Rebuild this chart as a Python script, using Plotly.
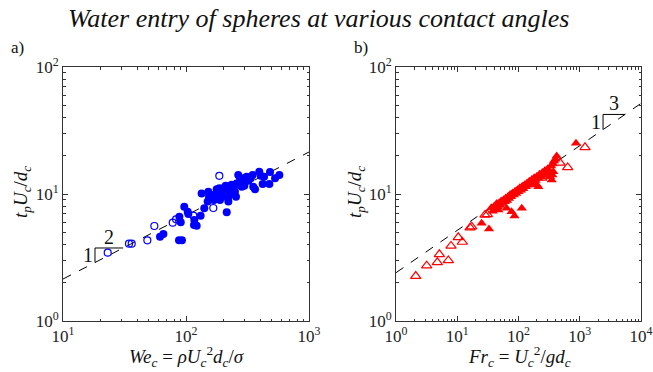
import numpy as np
import plotly.graph_objects as go

# ---------------- data: panel a ----------------
we_open = [23.1, 34.4, 36.2, 48.5, 55.3, 78.0, 83.0, 114.8, 166.7, 186.6]
tp_open_a = [3.45, 4.06, 4.06, 4.32, 5.60, 5.95, 6.32, 6.75, 7.76, 13.9]

we_fill = [61.5, 65.5, 87.7, 92.7, 90.6, 88.3, 96.8, 103.2, 104.5, 116.1,
           122.1, 116.9, 131.5, 134.0, 140.8, 151.9, 150.0, 153.8, 166.7, 168.9,
           177.6, 186.6, 188.8, 194.8, 201.2, 210.1, 214.3, 214.3, 221.0, 221.0,
           231.0, 235.0, 245.5, 250.0, 255.0, 258.0, 266.0, 275.0, 284.0, 292.5,
           298.0, 311.0, 321.0, 336.0, 348.0, 352.0, 364.0, 394.0, 405.0, 420.0,
           431.0, 482.0, 476.0, 530.0, 574.0, 239.0, 201.0, 177.6, 162.0, 275.0]
tp_fill_a = [4.61, 4.84, 4.32, 4.32, 5.98, 6.63, 7.95, 7.26, 6.96, 5.70,
             5.63, 6.24, 6.75, 10.1, 7.71, 10.4, 8.71, 9.53, 9.82, 8.97,
             10.1, 11.1, 8.97, 10.4, 11.1, 11.6, 10.8, 7.17, 8.71, 9.53,
             10.1, 11.8, 11.4, 10.4, 9.53, 12.1, 14.1, 13.3, 11.4, 13.3,
             11.6, 13.7, 12.7, 13.3, 14.1, 11.4, 10.9, 15.0, 13.9, 12.0,
             13.7, 14.9, 12.0, 13.3, 14.1, 10.6, 9.53, 10.9, 9.08, 12.1]

# ---------------- data: panel b ----------------
fr_open = [2.10, 3.17, 4.73, 5.10, 7.15, 7.91, 10.4, 12.1, 16.2, 17.2,
           28.4, 31.0, 239.0, 476.0, 635.0, 1218.0]
tp_open_b = [2.26, 2.73, 2.90, 3.35, 3.00, 3.90, 4.56, 4.19, 5.43, 5.53,
             6.84, 6.90, 13.4, 17.6, 16.2, 23.3]

fr_fill = [25.0, 33.0, 36.0, 38.0, 40.0, 42.0, 44.0, 46.0, 47.0, 48.0,
           50.0, 52.0, 55.0, 57.0, 60.0, 62.0, 64.0, 65.0, 68.0, 70.0,
           73.0, 76.0, 77.0, 80.0, 84.0, 86.0, 88.0, 92.0, 96.0, 100.0,
           105.0, 110.0, 113.0, 115.0, 120.0, 126.0, 132.0, 138.0, 145.0, 150.0,
           158.0, 165.0, 172.0, 180.0, 190.0, 198.0, 200.0, 210.0, 211.0, 220.0,
           232.0, 245.0, 258.0, 270.0, 285.0, 300.0, 320.0, 327.0, 340.0, 348.0,
           357.0, 360.0, 370.0, 380.0, 400.0, 420.0, 869.0]
tp_fill_b = [5.88, 5.30, 7.8, 7.3, 8.0, 7.6, 8.4, 7.9, 7.48, 8.5,
             8.1, 8.8, 8.4, 9.0, 8.7, 9.3, 7.71, 8.9, 9.6, 9.2,
             9.9, 9.5, 7.26, 10.2, 9.8, 6.71, 10.5, 10.1, 10.8, 10.4,
             11.2, 10.7, 7.71, 11.5, 11.0, 11.8, 11.4, 12.2, 11.7, 12.6,
             12.1, 13.0, 12.4, 13.4, 12.8, 11.8, 13.8, 13.3, 11.4, 14.3,
             13.7, 14.8, 14.2, 15.3, 14.6, 15.8, 15.2, 13.7, 16.6, 12.9,
             14.1, 17.2, 15.0, 18.2, 18.8, 19.9, 25.1]

# power-law guide lines  y = C * x^n
fit_a = (0.677, 1 / 2)
fit_b = (2.4, 1 / 3)
range_a = [10, 1000]
range_b = [1, 10000]
tri_a = [18.2, 30.8]
tri_b = [2400, 5480]

# tick labels (decades)
dec_a_x = [1, 2, 3]
dec_b_x = [0, 1, 2, 3, 4]
dec_y = [0, 1, 2]

BLUE = "rgb(0,0,255)"
RED = "rgb(255,0,0)"
SERIF = "Liberation Serif"


def powline(fit, xs):
    return [fit[0] * x ** fit[1] for x in xs]


def minor_vals(decs):
    return [m * 10 ** d for d in decs[:-1] for m in range(2, 10)]


fig = go.Figure()

# panel a
fig.add_trace(go.Scatter(x=range_a, y=powline(fit_a, range_a), mode="lines",
                         line=dict(color="black", width=1, dash="dash"),
                         xaxis="x", yaxis="y", hoverinfo="skip"))
fig.add_trace(go.Scatter(x=we_open, y=tp_open_a, mode="markers",
                         marker=dict(symbol="circle-open", size=7, color=BLUE,
                                     line=dict(width=1.2, color=BLUE)),
                         xaxis="x", yaxis="y"))
fig.add_trace(go.Scatter(x=we_fill, y=tp_fill_a, mode="markers",
                         marker=dict(symbol="circle", size=8, color=BLUE),
                         xaxis="x", yaxis="y"))
ya1, ya2 = powline(fit_a, tri_a)
fig.add_trace(go.Scatter(x=[tri_a[0], tri_a[0], tri_a[1]], y=[ya1, ya2, ya2],
                         mode="lines", line=dict(color="black", width=1),
                         xaxis="x", yaxis="y", hoverinfo="skip"))

# panel b
fig.add_trace(go.Scatter(x=range_b, y=powline(fit_b, range_b), mode="lines",
                         line=dict(color="black", width=1, dash="dash"),
                         xaxis="x2", yaxis="y2", hoverinfo="skip"))
fig.add_trace(go.Scatter(x=fr_open, y=tp_open_b, mode="markers",
                         marker=dict(symbol="triangle-up-open", size=9, color=RED,
                                     line=dict(width=1.2, color=RED)),
                         xaxis="x2", yaxis="y2"))
fig.add_trace(go.Scatter(x=fr_fill, y=tp_fill_b, mode="markers",
                         marker=dict(symbol="triangle-up", size=9, color=RED),
                         xaxis="x2", yaxis="y2"))
yb1, yb2 = powline(fit_b, tri_b)
fig.add_trace(go.Scatter(x=[tri_b[0], tri_b[0], tri_b[1]], y=[yb1, yb2, yb2],
                         mode="lines", line=dict(color="black", width=1),
                         xaxis="x2", yaxis="y2", hoverinfo="skip"))

W, H = 653, 372


def px(xp):  # page x -> paper fraction
    return xp / W


def py(yp):  # page y -> paper fraction
    return 1 - yp / H


dom_y = [py(321), py(67)]
tickfont = dict(family=SERIF, size=17, color="#222")


def axis(decs, **kw):
    d = dict(type="log", showgrid=False, zeroline=False, showline=True,
             linecolor="#333", linewidth=1, mirror="allticks", automargin=False,
             ticks="inside", ticklen=5, tickcolor="#333", tickfont=tickfont,
             tickmode="array", tickvals=[10 ** d for d in decs],
             ticktext=["10<sup>%d</sup>" % d for d in decs],
             range=[decs[0], decs[-1]],
             minor=dict(ticks="inside", ticklen=2.5, tickcolor="#333",
                        tickmode="array", tickvals=minor_vals(decs),
                        showgrid=False))
    d.update(kw)
    return d


ytitle = "<i>t</i><sub><i>p</i></sub><i>U</i><sub><i>c</i></sub>/<i>d</i><sub><i>c</i></sub>"
xtitle_a = ("<i>We</i><sub><i>c</i></sub> = <i>ρU</i><sub><i>c</i></sub><sup>2</sup>"
            "<i>d</i><sub><i>c</i></sub>/<i>σ</i>")
xtitle_b = ("<i>Fr</i><sub><i>c</i></sub> = <i>U</i><sub><i>c</i></sub><sup>2</sup>"
            "/<i>gd</i><sub><i>c</i></sub>")

fig.update_layout(
    template="none",
    width=W, height=H, margin=dict(l=0, r=0, t=0, b=0, autoexpand=False),
    paper_bgcolor="white", plot_bgcolor="white", showlegend=False,
    xaxis=axis(dec_a_x, domain=[px(63), px(309)], anchor="y"),
    yaxis=axis(dec_y, domain=dom_y, anchor="x"),
    xaxis2=axis(dec_b_x, domain=[px(396), px(641)], anchor="y2"),
    yaxis2=axis(dec_y, domain=dom_y, anchor="x2"),
)


def paper_text(text, xp, yp, size, angle=0):
    return dict(text=text, x=px(xp), y=py(yp), xref="paper", yref="paper",
                xanchor="center", yanchor="middle", showarrow=False,
                textangle=angle, font=dict(family=SERIF, size=size, color="#111"))


lab = dict(family=SERIF, size=20, color="#111")
ann = [
    paper_text("<i>Water entry of spheres at various contact angles</i>", 318, 19, 26),
    paper_text("a)", 17, 47, 17),
    paper_text("b)", 361, 47, 17),
    paper_text(xtitle_a, 186, 356, 19),
    paper_text(xtitle_b, 519, 356, 19),
    paper_text(ytitle, 22, 192, 19, -90),
    paper_text(ytitle, 356, 192, 19, -90),
    # slope labels
    dict(text="2", x=np.log10(np.sqrt(tri_a[0] * tri_a[1])), y=np.log10(ya2),
         xref="x", yref="y", yshift=11, showarrow=False, font=lab),
    dict(text="1", x=np.log10(tri_a[0]), y=np.log10(np.sqrt(ya1 * ya2)),
         xref="x", yref="y", xshift=-7, showarrow=False, font=lab),
    dict(text="3", x=np.log10(np.sqrt(tri_b[0] * tri_b[1])), y=np.log10(yb2),
         xref="x2", yref="y2", yshift=11, showarrow=False, font=lab),
    dict(text="1", x=np.log10(tri_b[0]), y=np.log10(np.sqrt(yb1 * yb2)),
         xref="x2", yref="y2", xshift=-7, showarrow=False, font=lab),
]
fig.update_layout(annotations=ann)

# remove the default 8px page margin so the figure fills the 653x372 window
fig.write_html("out.html",
               config={"displayModeBar": False},
               post_script="document.body.style.margin='0px';")
